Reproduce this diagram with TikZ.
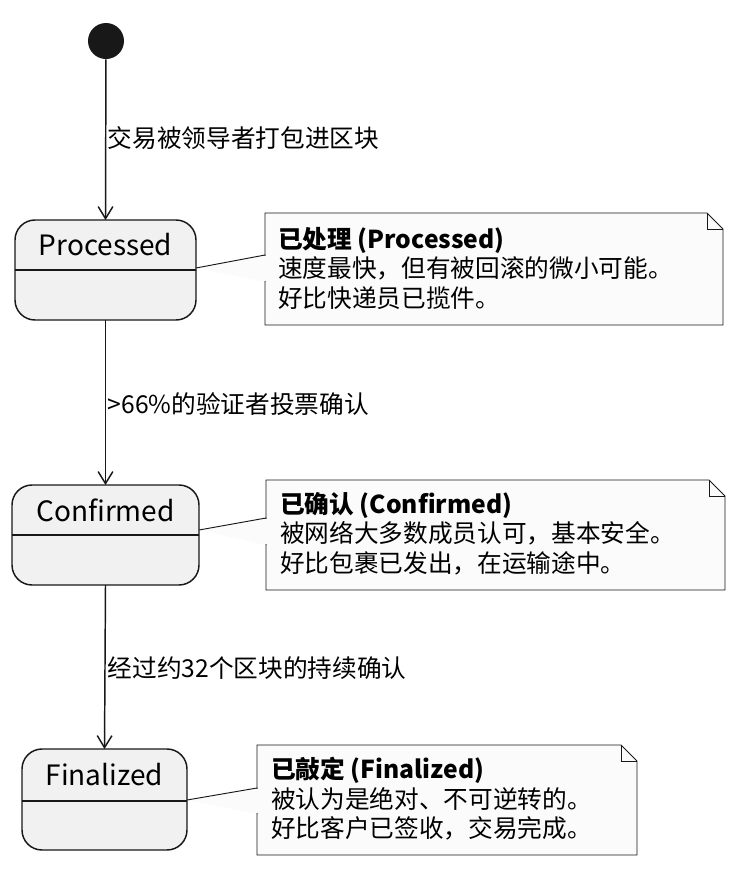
\documentclass[tikz,border=0pt]{standalone}
\usepackage{fontspec}
\setmainfont{Noto Sans CJK SC}
\usetikzlibrary{arrows.meta}
\definecolor{stfill}{HTML}{F1F1F1}
\definecolor{ln}{HTML}{181818}
\definecolor{notefill}{HTML}{FBFBFB}
\tikzset{
  x=0.75pt,y=-0.75pt,
  stbox/.style={draw=ln,fill=stfill,line width=1.1pt,rounded corners=15pt},
  ttl/.style={font=\fontsize{21}{24}\selectfont,anchor=center},
  lbl/.style={font=\fontsize{18.5}{22}\selectfont,anchor=west},
  notetxt/.style={font=\fontsize{18.5}{22}\selectfont,align=left,anchor=north west,inner sep=0pt},
  notebox/.style={draw=ln,fill=notefill,line width=0.7pt},
  arr/.style={draw=ln,line width=1.1pt,-{Straight Barb[length=9pt,width=11pt,line width=1.1pt]}},
}
\newcommand{\notefold}[5]{% x1,y1,x2,y2,name
  \path[notebox] (#1,#2) -- (#3-16,#2) -- (#3,#2+16) -- (#3,#4) -- (#1,#4) -- cycle;
  \draw[ln,line width=0.7pt] (#3-16,#2) -- (#3-16,#2+16) -- (#3,#2+16);
  \coordinate (#5) at (#1,#2);
}
\begin{document}
\begin{tikzpicture}
\useasboundingbox (0,0) rectangle (748,872);
\node[circle,fill=ln,minimum size=27pt,inner sep=0pt] (start) at (106,41) {};
% states
\draw[stbox] (15,220) rectangle (196,320);
\draw[ln,line width=0.9pt] (15,270) -- (196,270);
\node[ttl] (proc) at (105.5,245) {Processed};
\coordinate (procT) at (105.5,220); \coordinate (procB) at (105.5,320);
\draw[stbox] (12,485) rectangle (199,585);
\draw[ln,line width=0.9pt] (12,535) -- (199,535);
\node[ttl] (conf) at (105.5,510) {Confirmed};
\coordinate (confT) at (105.5,485); \coordinate (confB) at (105.5,585);
\draw[stbox] (22,749) rectangle (187,850);
\draw[ln,line width=0.9pt] (22,801) -- (187,801);
\node[ttl] (fin) at (104.5,775) {Finalized};
\coordinate (finT) at (104.5,749);
% arrows
\draw[arr] (start) -- (procT);
\node[lbl] (l1) at (103,138) {交易被领导者打包进区块};
\draw[arr] (procB) -- (confT);
\node[lbl] (l2) at (103,404) {>66\%的验证者投票确认};
\draw[arr] (confB) -- (finT);
\node[lbl] (l3) at (103,668) {经过约32个区块的持续确认};
% notes
\notefold{265}{213}{723}{325}{n1}
\draw[ln,line width=0.7pt,fill=notefill] (196,268) -- (265,255) -- (265,282);
\draw[notefill,line width=1pt] (265,256) -- (265,281);
\node[notetxt] (t1) at (278,227) {\textbf{已处理 (Processed)}\\速度最快，但有被回滚的微小可能。\\好比快递员已揽件。};
\notefold{266}{480}{725}{590}{n2}
\draw[ln,line width=0.7pt,fill=notefill] (199,530) -- (266,518) -- (266,545);
\draw[notefill,line width=1pt] (266,519) -- (266,544);
\node[notetxt] (t2) at (280,492) {\textbf{已确认 (Confirmed)}\\被网络大多数成员认可，基本安全。\\好比包裹已发出，在运输途中。};
\notefold{257}{745}{637}{855}{n3}
\draw[ln,line width=0.7pt,fill=notefill] (187,800) -- (257,788) -- (257,814);
\draw[notefill,line width=1pt] (257,789) -- (257,813);
\node[notetxt] (t3) at (271,757) {\textbf{已敲定 (Finalized)}\\被认为是绝对、不可逆转的。\\好比客户已签收，交易完成。};
\end{tikzpicture}
\end{document}
